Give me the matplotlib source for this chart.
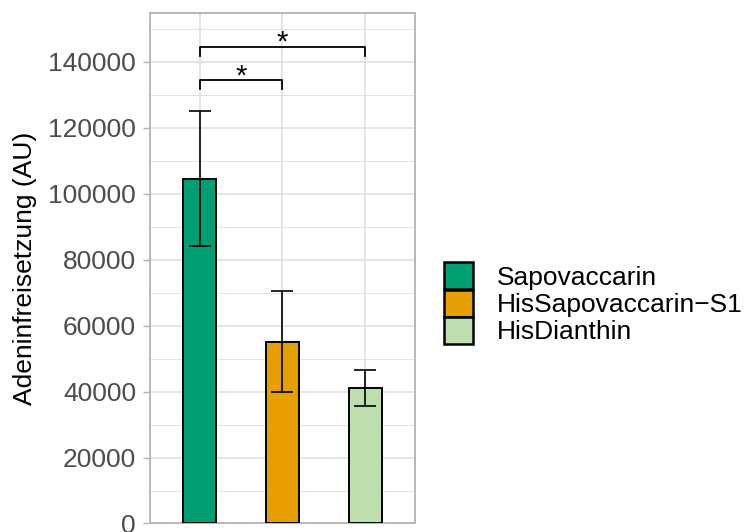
import matplotlib
matplotlib.use("Agg")
import matplotlib.pyplot as plt
from matplotlib.patches import Patch
from matplotlib.ticker import MultipleLocator

# --- data -------------------------------------------------------------------
groups = ["Sapovaccarin", "HisSapovaccarin\u2212S1", "HisDianthin"]
means = [104500, 55100, 41000]
errors = [20500, 15300, 5400]
colors = ["#009E73", "#E69F00", "#BFDEAE"]

# significance brackets: (left group, right group, height, label)
brackets = [(0, 1, 134500, "*"), (0, 2, 144600, "*")]
bracket_tip = 2700

# --- style -------------------------------------------------------------------
plt.rcParams["font.family"] = ["Liberation Sans", "DejaVu Sans"]
GRID = "#DEDEDE"
BORDER = "#B3B3B3"
TICK_TEXT = "#4D4D4D"

fig = plt.figure(figsize=(7.44, 5.32), dpi=100)
ax = fig.add_axes([0.2016, 0.016, 0.3562, 0.9596])

x = list(range(1, len(groups) + 1))
ax.bar(x, means, width=0.4, color=colors, edgecolor="black", linewidth=1.4,
       zorder=3)
ax.errorbar(x, means, yerr=errors, fmt="none", ecolor="black", elinewidth=1.2,
            capsize=8, capthick=1.2, zorder=4)

for i, j, h, lab in brackets:
    xi, xj = x[i], x[j]
    ax.plot([xi, xi, xj, xj], [h - bracket_tip, h, h, h - bracket_tip],
            color="black", linewidth=1.3, zorder=4, clip_on=False)
    ax.annotate(lab, xy=((xi + xj) / 2, h), xytext=(0, -3),
                textcoords="offset points", ha="center", va="baseline",
                fontsize=21, zorder=4)

ax.set_xlim(0.4, 3.6)
ax.set_ylim(0, 154800)
ax.set_xticks(x)
ax.set_xticklabels([])
ax.tick_params(axis="x", length=0)
ax.yaxis.set_major_locator(MultipleLocator(20000))
ax.yaxis.set_minor_locator(MultipleLocator(10000))
ax.tick_params(axis="y", which="major", length=5, width=1, color=BORDER,
               labelsize=19, labelcolor=TICK_TEXT, pad=5)
ax.tick_params(axis="y", which="minor", length=0)
ax.grid(True, which="major", color=GRID, linewidth=1.1, zorder=0)
ax.grid(True, which="minor", axis="y", color=GRID, linewidth=0.6, zorder=0)
ax.set_axisbelow(True)
for sp in ax.spines.values():
    sp.set_color(BORDER)
    sp.set_linewidth(1.3)

ax.set_ylabel("Adeninfreisetzung (AU)", fontsize=19, labelpad=8)

handles = [Patch(facecolor=c, edgecolor="black", linewidth=1.8) for c in colors]
fig.legend(handles, groups, loc="center left", bbox_to_anchor=(0.597, 0.43),
           frameon=False, fontsize=19, labelspacing=0.0, handlelength=1.1,
           handleheight=1.2, handletextpad=0.9, borderpad=0, borderaxespad=0)

fig.savefig("out.png", dpi=100)
